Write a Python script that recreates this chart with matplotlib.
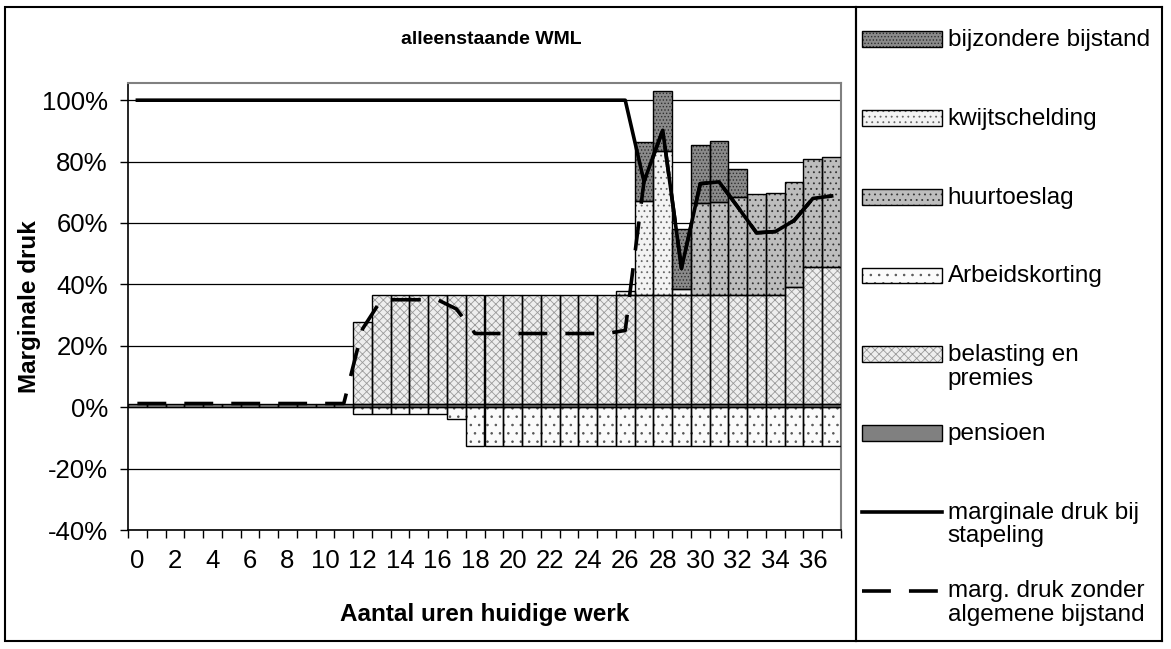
import numpy as np
import matplotlib
matplotlib.use('Agg')
import matplotlib.pyplot as plt
from matplotlib.patches import Patch, Rectangle
from matplotlib.lines import Line2D
from matplotlib.legend_handler import HandlerPatch, HandlerLine2D
from matplotlib.ticker import FuncFormatter

plt.rcParams['font.family'] = ['Liberation Sans', 'DejaVu Sans']
plt.rcParams['hatch.linewidth'] = 0.6

# aantal uren huidige werk (0 t/m 37)
hours = np.arange(38)

# componenten van de marginale druk, in %
pensioen = [1.2, 1.2, 1.2, 1.2, 1.2, 1.2, 1.2, 1.2, 1.2, 1.2,
            1.2, 1.2, 1.2, 1.2, 1.2, 1.2, 1.2, 1.2, 1.2, 1.2,
            1.2, 1.2, 1.2, 1.2, 1.2, 1.2, 1.2, 1.2, 1.2, 1.2,
            1.2, 1.2, 1.2, 1.2, 1.2, 1.2, 1.2, 1.2]
belasting = [0, 0, 0, 0, 0, 0, 0, 0, 0, 0,
             0, 0, 26.5, 35.2, 35.2, 35.2, 35.2, 35.2, 35.2, 35.2,
             35.2, 35.2, 35.2, 35.2, 35.2, 35.2, 35.2, 35.2, 35.2, 35.2,
             35.2, 35.2, 35.2, 35.2, 35.2, 38.0, 44.4, 44.4]
arbeidskorting = [0, 0, 0, 0, 0, 0, 0, 0, 0, 0,
                  0, 0, -2.1, -2.1, -2.1, -2.1, -2.1, -4.0, -12.8, -12.8,
                  -12.8, -12.8, -12.8, -12.8, -12.8, -12.8, -12.8, -12.8, -12.8, -12.8,
                  -12.8, -12.8, -12.8, -12.8, -12.8, -12.8, -12.8, -12.8]
huurtoeslag = [0, 0, 0, 0, 0, 0, 0, 0, 0, 0,
               0, 0, 0, 0, 0, 0, 0, 0, 0, 0,
               0, 0, 0, 0, 0, 0, 0, 0, 0, 0,
               30.0, 30.5, 32.2, 33.0, 33.5, 34.2, 35.3, 36.0]
kwijtschelding = [0, 0, 0, 0, 0, 0, 0, 0, 0, 0,
                  0, 0, 0, 0, 0, 0, 0, 0, 0, 0,
                  0, 0, 0, 0, 0, 0, 1.6, 30.7, 46.9, 2.0,
                  0, 0, 0, 0, 0, 0, 0, 0]
bijzondere = [0, 0, 0, 0, 0, 0, 0, 0, 0, 0,
              0, 0, 0, 0, 0, 0, 0, 0, 0, 0,
              0, 0, 0, 0, 0, 0, 0, 19.2, 19.7, 19.6,
              19.1, 19.9, 9.0, 0, 0, 0, 0, 0]

# lijnen
stapeling = [100, 100, 100, 100, 100, 100, 100, 100, 100, 100,
             100, 100, 100, 100, 100, 100, 100, 100, 100, 100,
             100, 100, 100, 100, 100, 100, 100, 73.5, 90.2, 45.2,
             72.8, 73.4, 65.2, 56.8, 57.2, 60.8, 68.0, 68.8]
zonder_bijstand = [1.2, 1.2, 1.2, 1.2, 1.2, 1.2, 1.2, 1.2, 1.2, 1.2,
                   1.2, 1.2, 25.5, 35.0, 35.0, 35.0, 35.0, 32.0, 24.0, 24.0,
                   24.0, 24.0, 24.0, 24.0, 24.0, 24.0, 25.0, 73.5, 90.2, 45.2,
                   72.8, 73.4, 65.2, 56.8, 57.2, 60.8, 68.0, 68.8]

W, H = 1171, 649
FS = 17.5
TICK_FS = 18.5
fig = plt.figure(figsize=(W / 100, H / 100), dpi=100)
ax = fig.add_axes([128 / W, 1 - 530 / H, 713 / W, 447 / H])

pen = np.array(pensioen)
bel = np.array(belasting)
huur = np.array(huurtoeslag)
kwijt = np.array(kwijtschelding)
bijz = np.array(bijzondere)

# stijlen: (achtergrond, arceerkleur, arcering)
styles = {
    'pensioen': ('#808080', '#808080', None),
    'belasting': ('#eeeeee', '#9a9a9a', 'xxxx'),
    'arbeid': ('#fbfbfb', '#555555', '..'),
    'huur': ('#bdbdbd', '#333333', '...'),
    'kwijt': ('#f3f3f3', '#666666', '...'),
    'bijz': ('#8a8a8a', '#2e2e2e', '.....'),
}


def stack(vals, base, key):
    fc, hc, hatch = styles[key]
    v = np.asarray(vals, dtype=float)
    m = v != 0
    ax.bar(hours[m], v[m], bottom=base[m], width=1.0, color=fc,
           edgecolor=hc, hatch=hatch, linewidth=0, zorder=2)
    ax.bar(hours[m], v[m], bottom=base[m], width=1.0, facecolor='none',
           edgecolor='black', linewidth=1.0, zorder=3)


zero = np.zeros(len(hours))
stack(pen, zero, 'pensioen')
stack(bel, pen, 'belasting')
stack(arbeidskorting, zero, 'arbeid')
stack(huur, pen + bel, 'huur')
stack(kwijt, pen + bel + huur, 'kwijt')
stack(bijz, pen + bel + huur + kwijt, 'bijz')

ax.plot(hours, zonder_bijstand, color='black', lw=2.6, ls=(0, (8, 5)), zorder=4)
ax.plot(hours, stapeling, color='black', lw=2.6, zorder=5)

ax.set_xlim(-0.5, 37.5)
ax.set_ylim(-40, 105.6)
ax.set_yticks(np.arange(-40, 101, 20))
ax.yaxis.set_major_formatter(FuncFormatter(lambda v, p: f'{v:.0f}%'))
ax.yaxis.grid(True, color='black', lw=0.9)
ax.set_axisbelow(True)
ax.tick_params(axis='y', direction='out', length=6, width=1, labelsize=TICK_FS, pad=8.5)

ax.set_xticks(np.arange(0, 38, 2))
ax.set_xticklabels([str(h) for h in range(0, 38, 2)])
ax.set_xticks(np.arange(-0.5, 38, 1), minor=True)
ax.tick_params(axis='x', which='major', length=0, labelsize=TICK_FS, pad=14)
ax.tick_params(axis='x', which='minor', direction='out', length=6, width=1)

for s in ['top', 'right']:
    ax.spines[s].set_color('#808080')
    ax.spines[s].set_linewidth(1.5)
for s in ['left', 'bottom']:
    ax.spines[s].set_color('black')
    ax.spines[s].set_linewidth(1.2)

ax.set_xlabel('Aantal uren huidige werk', fontsize=FS, fontweight='bold', va='center')
ax.xaxis.set_label_coords(0.5, (530 - 614) / 447)
ax.set_ylabel('Marginale druk', fontsize=FS, fontweight='bold', va='center')
ax.yaxis.set_label_coords((30 - 128) / 713, 0.5)
fig.text(491 / W, 1 - 40 / H, 'alleenstaande WML', ha='center', va='center',
         fontsize=14, fontweight='bold')

# kaders
fig.add_artist(Rectangle((5 / W, 1 - 641 / H), 851 / W, 634 / H, transform=fig.transFigure,
                         fill=False, ec='black', lw=1.5))
lax = fig.add_axes([856 / W, 1 - 641 / H, 306 / W, 634 / H])
lax.set_xticks([])
lax.set_yticks([])
for s in lax.spines.values():
    s.set_color('black')
    s.set_linewidth(1.5)

RAISE = 0.52  # legendasymbool op de eerste regel van het label


def raised_patch(legend, orig_handle, xdescent, ydescent, width, height, fontsize):
    return Rectangle((-xdescent, -ydescent + RAISE * fontsize), width, height)


class RaisedLine(HandlerLine2D):
    def create_artists(self, legend, orig_handle, xdescent, ydescent,
                       width, height, fontsize, trans):
        return super().create_artists(legend, orig_handle, xdescent,
                                      ydescent - 2 * RAISE * fontsize,
                                      width, height, fontsize, trans)


def swatch(key):
    fc, hc, hatch = styles[key]
    return (Patch(facecolor=fc, edgecolor=hc, hatch=hatch, linewidth=0),
            Patch(facecolor='none', edgecolor='black', linewidth=1.0))


handles = [swatch('bijz'), swatch('kwijt'), swatch('huur'), swatch('arbeid'),
           swatch('belasting'), swatch('pensioen'),
           Line2D([], [], color='black', lw=2.6),
           Line2D([], [], color='black', lw=2.6, ls=(0, (8, 5)))]
# elk label twee regels hoog, zodat de rijen gelijk verdeeld zijn
labels = ['bijzondere bijstand\n', 'kwijtschelding\n', 'huurtoeslag\n', 'Arbeidskorting\n',
          'belasting en\npremies', 'pensioen\n', 'marginale druk bij\nstapeling',
          'marg. druk zonder\nalgemene bijstand']
hmap = {Patch: HandlerPatch(patch_func=raised_patch), Line2D: RaisedLine()}
leg = lax.legend(handles, labels, loc='upper left', bbox_to_anchor=(6 / 306, 1 - 22 / 634),
                 frameon=False, fontsize=FS, handlelength=3.3, handleheight=0.62,
                 handletextpad=0.22, labelspacing=1.36, borderaxespad=0, borderpad=0,
                 handler_map=hmap)
for t in leg.get_texts():
    t.set_linespacing(1.1)

fig.savefig('out.png', dpi=100)
